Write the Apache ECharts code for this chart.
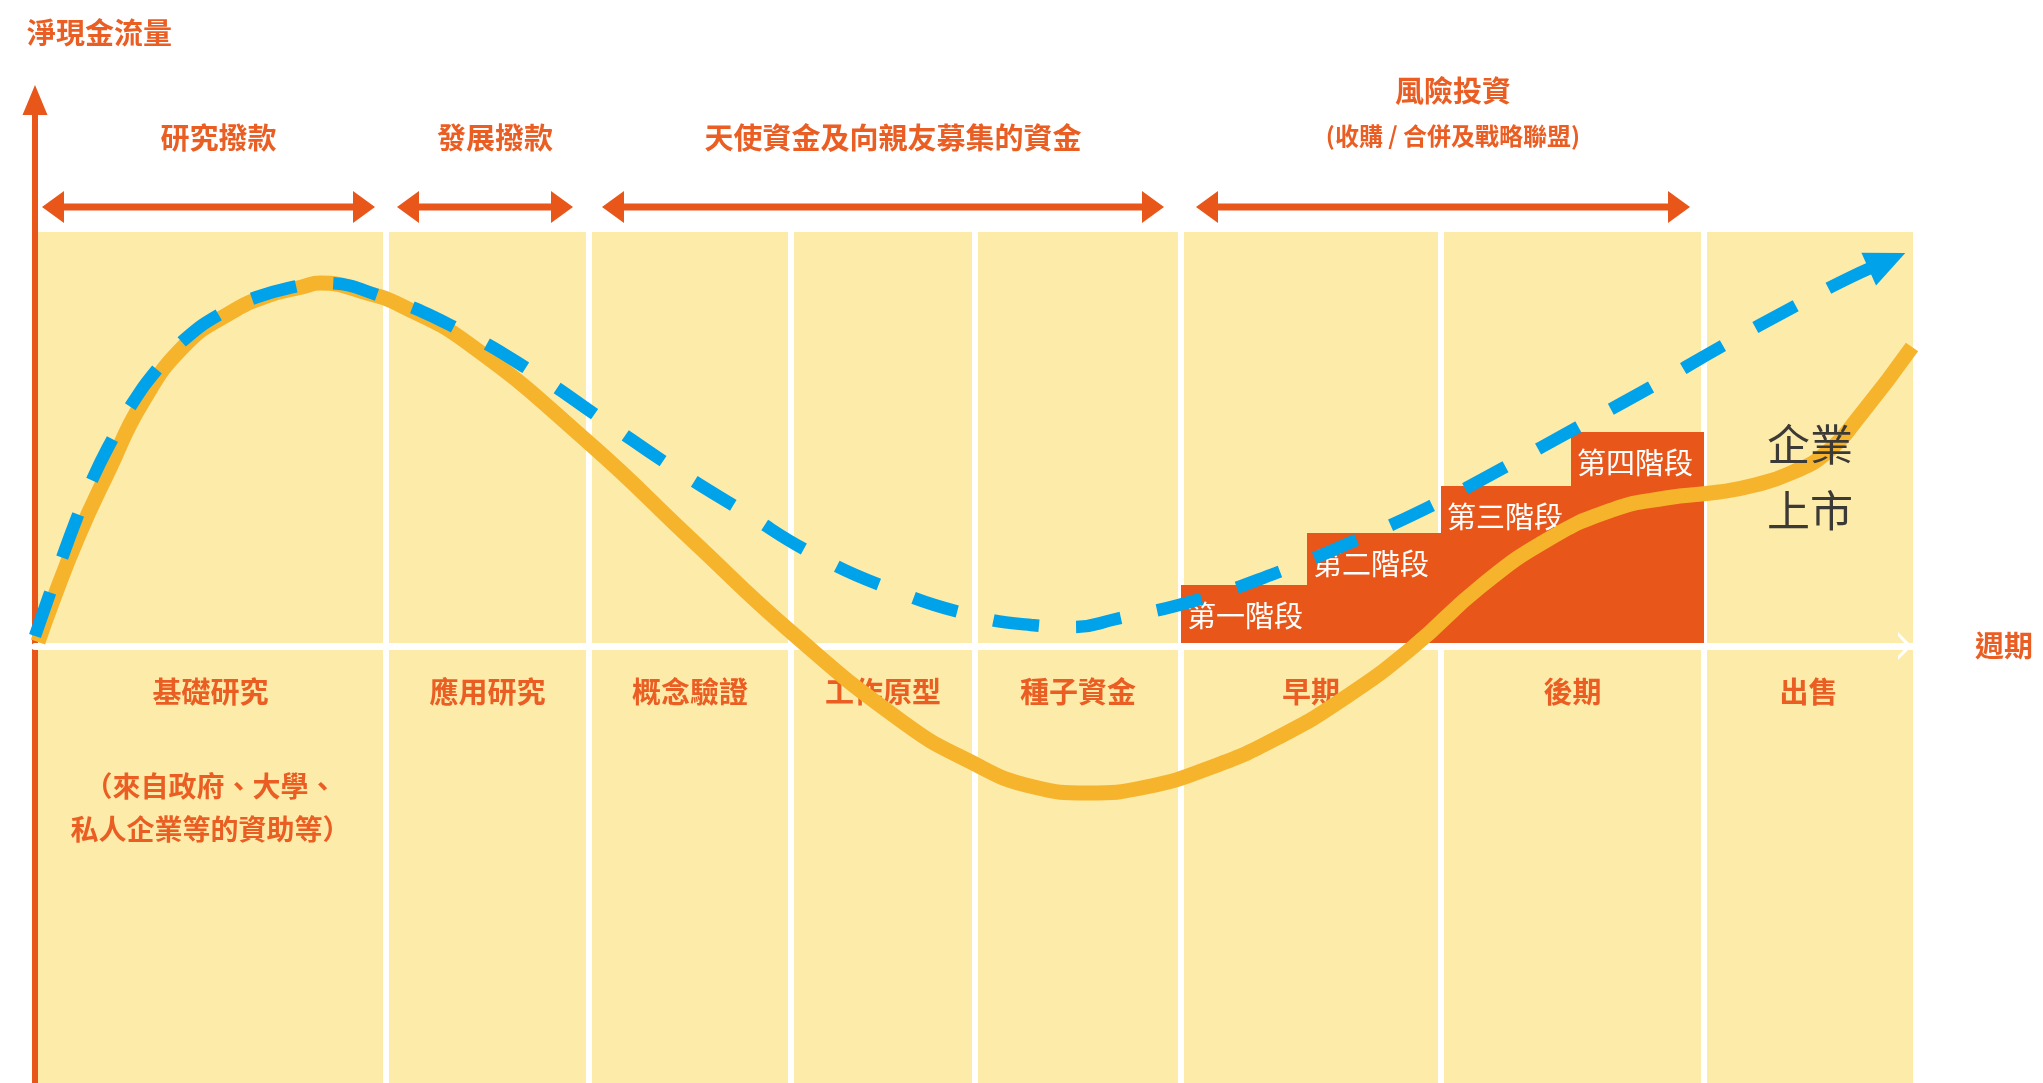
<!DOCTYPE html>
<html>
<head>
<meta charset="utf-8">
<title>淨現金流量</title>
<script src="https://cdn.jsdelivr.net/npm/echarts@6/dist/echarts.min.js"></script>
<style>
html,body{margin:0;padding:0;background:#fff;}
#main{width:2043px;height:1083px;}
</style>
</head>
<body>
<div id="main"></div>
<script>
// 週期分欄（x 軸）
var phaseEdges = [0, 351, 554, 756, 940, 1146, 1406, 1669, 1878];
var phaseNames = ['基礎研究', '應用研究', '概念驗證', '工作原型', '種子資金', '早期', '後期', '出售'];
var phaseNotes = ['（來自政府、大學、\n私人企業等的資助等）', '', '', '', '', '', '', ''];

// 資金來源（上方雙箭頭）
var fundStart = [7, 362, 567, 1161];
var fundEnd = [340, 538, 1129, 1655];
var fundNames = ['研究撥款', '發展撥款', '天使資金及向親友募集的資金', '風險投資'];
var fundNotes = ['', '', '', '(收購 / 合併及戰略聯盟)'];

// 投資階段
var stageNames = ['第一階段', '第二階段', '第三階段', '第四階段'];
var stageStart = [1146, 1272, 1406, 1536];
var stageEnd = [1669, 1669, 1669, 1669];
var stageTop = [61, 113, 160, 214];

// 淨現金流量（實線）
var cashFlow = [[3, 4], [17, 43], [43, 109], [74, 176], [107, 243], [150, 301], [195, 333], [232, 350],
  [267, 359], [285, 363], [332, 353], [365, 341], [434, 302], [554, 203], [657, 106], [756, 14], [865, -74],
  [932, -114], [999, -141], [1052, -147], [1111, -141], [1177, -121], [1244, -91], [1311, -51],
  [1378, -1], [1445, 59], [1512, 106], [1577, 136], [1631, 148], [1684, 154], [1720, 161],
  [1756, 173], [1791, 193], [1827, 233], [1877, 299]];

// 虛線
var outlook = [[0, 10], [15, 53], [27, 88], [43, 131], [58, 168], [78, 208], [97, 242], [124, 279],
  [150, 307], [187, 333], [222, 349], [267, 361], [285, 363], [348, 349],
  [425, 316], [499, 273], [568, 226], [637, 179], [709, 134], [780, 91], [858, 56], [936, 31],
  [996, 21], [1038, 19], [1081, 27], [1162, 46], [1241, 73], [1319, 105], [1394, 139], [1470, 179],
  [1543, 219], [1616, 259], [1689, 301], [1762, 341], [1816, 369], [1852, 385]];

var listingText = '企業\n上市';
var listingAt = [1775, 168];

var xMax = 1878, yMin = -437, yMax = 546;
var panelTop = 414;
var fundLevel = 439;

var ORANGE = '#E8561A', TEXT = '#EA5E24', YELLOW = '#FDEBA9', CURVE = '#F6B42C', BLUE = '#00A2EA';
var FONT = '"Noto Sans CJK TC", "Noto Sans CJK SC", sans-serif';

function txt(text, x, y, size, color, align, lh, weight) {
    return {type: 'text', style: {text: text, x: x, y: y, fill: color, fontSize: size, fontFamily: FONT,
        fontWeight: weight || 'normal', align: align || 'center', verticalAlign: 'middle', lineHeight: lh || size * 1.3}};
}

function renderPhase(params, api) {
    var i = params.dataIndex;
    var last = phaseNames.length - 1;
    var tl = api.coord([api.value(0), panelTop]);
    var br = api.coord([api.value(1), yMin]);
    var o = api.coord([0, 0]);
    var x0 = i === 0 ? tl[0] : tl[0] + 3;
    var x1 = i === last ? br[0] : br[0] - 3;
    var cx = (tl[0] + br[0]) / 2;
    var kids = [{type: 'rect', shape: {x: x0, y: tl[1], width: x1 - x0, height: br[1] - tl[1]}, style: {fill: YELLOW}}];
    kids.push(txt(phaseNames[i], cx, o[1] + 46, 29, TEXT, 'center', 0, 'bold'));
    if (phaseNotes[i]) kids.push(txt(phaseNotes[i], cx, o[1] + 162, 28, TEXT, 'center', 43, 'bold'));
    return {type: 'group', children: kids};
}

function renderStage(params, api) {
    var tl = api.coord([api.value(0), api.value(2)]);
    var br = api.coord([api.value(1), 0]);
    return {type: 'group', children: [
        {type: 'rect', shape: {x: tl[0], y: tl[1], width: br[0] - tl[0], height: br[1] - tl[1]}, style: {fill: ORANGE}},
        txt(stageNames[params.dataIndex], tl[0] + 6, tl[1] + 31, 29, '#fff', 'left')
    ]};
}

function renderFund(params, api) {
    var i = params.dataIndex;
    var s = api.coord([api.value(0), fundLevel]);
    var e = api.coord([api.value(1), fundLevel]);
    var y = s[1], h = 22, w = 16;
    var cx = (s[0] + e[0]) / 2 + 10;
    var kids = [
        {type: 'line', shape: {x1: s[0] + h - 2, y1: y, x2: e[0] - h + 2, y2: y}, style: {stroke: ORANGE, lineWidth: 7}},
        {type: 'polygon', shape: {points: [[s[0], y], [s[0] + h, y - w], [s[0] + h, y + w]]}, style: {fill: ORANGE}},
        {type: 'polygon', shape: {points: [[e[0], y], [e[0] - h, y - w], [e[0] - h, y + w]]}, style: {fill: ORANGE}}
    ];
    if (fundNotes[i]) {
        kids.push(txt(fundNames[i], cx, y - 116, 29, TEXT, 'center', 0, 'bold'));
        kids.push(txt(fundNotes[i], cx, y - 71, 24, TEXT, 'center', 0, 'bold'));
    } else {
        kids.push(txt(fundNames[i], cx, y - 69, 29, TEXT, 'center', 0, 'bold'));
    }
    return {type: 'group', children: kids};
}

function renderListing(params, api) {
    var p = api.coord([api.value(0), api.value(1)]);
    return txt(listingText, p[0], p[1], 43, '#3c3a36', 'center', 66);
}

var chart = echarts.init(document.getElementById('main'));
var option = {
    animation: false,
    textStyle: {fontFamily: FONT},
    grid: {left: 35, right: 130, top: 100, bottom: 0, outerBoundsMode: 'none'},
    xAxis: {
        type: 'value', min: 0, max: xMax, z: 3,
        axisLine: {onZero: true, lineStyle: {color: '#fff', width: 7},
            symbol: ['none', 'path://M0,14 L14,0 L28,14 L24,14 L14,5 L4,14 Z'],
            symbolSize: [28, 15], symbolOffset: [0, -8]},
        axisTick: {show: false}, axisLabel: {show: false}, splitLine: {show: false},
        name: '週期', nameLocation: 'end', nameGap: 62,
        nameTextStyle: {color: TEXT, fontSize: 29, fontWeight: 'bold', fontFamily: FONT}
    },
    yAxis: {
        type: 'value', min: yMin, max: yMax, z: 3,
        axisLine: {show: true, lineStyle: {color: ORANGE, width: 6},
            symbol: ['none', 'triangle'], symbolSize: [25, 30]},
        axisTick: {show: false}, axisLabel: {show: false}, splitLine: {show: false},
        name: '淨現金流量', nameLocation: 'end', nameGap: 67,
        nameTextStyle: {color: TEXT, fontSize: 29, fontWeight: 'bold', fontFamily: FONT,
            align: 'left', verticalAlign: 'middle', padding: [0, 0, 0, -8]}
    },
    series: [
        {type: 'custom', z: 1, renderItem: renderPhase, silent: true,
            data: phaseNames.map(function (n, i) { return [phaseEdges[i], phaseEdges[i + 1]]; })},
        {type: 'custom', z: 2, renderItem: renderFund, silent: true,
            data: fundNames.map(function (n, i) { return [fundStart[i], fundEnd[i]]; })},
        {type: 'custom', z: 2, renderItem: renderStage, silent: true,
            data: stageNames.map(function (n, i) { return [stageStart[i], stageEnd[i], stageTop[i]]; })},
        {type: 'line', z: 4, data: cashFlow, smooth: true, symbol: 'none',
            lineStyle: {color: CURVE, width: 15}},
        {type: 'line', z: 5, data: outlook, smooth: true, symbol: 'none',
            lineStyle: {color: BLUE, width: 12.5, type: [46, 37], cap: 'butt'}},
        {id: 'arrowHead', type: 'scatter', z: 5, data: [outlook[outlook.length - 1]],
            symbol: 'triangle', symbolSize: [36, 40], itemStyle: {color: BLUE, opacity: 1}},
        {type: 'custom', z: 6, renderItem: renderListing, silent: true, data: [listingAt]}
    ]
};
chart.setOption(option);

// 箭頭方向跟隨虛線末段
var p1 = chart.convertToPixel({gridIndex: 0}, outlook[outlook.length - 2]);
var p2 = chart.convertToPixel({gridIndex: 0}, outlook[outlook.length - 1]);
var ang = Math.atan2(p1[1] - p2[1], p2[0] - p1[0]) * 180 / Math.PI;
chart.setOption({series: [{id: 'arrowHead', symbolRotate: ang - 90}]});
</script>
</body>
</html>
